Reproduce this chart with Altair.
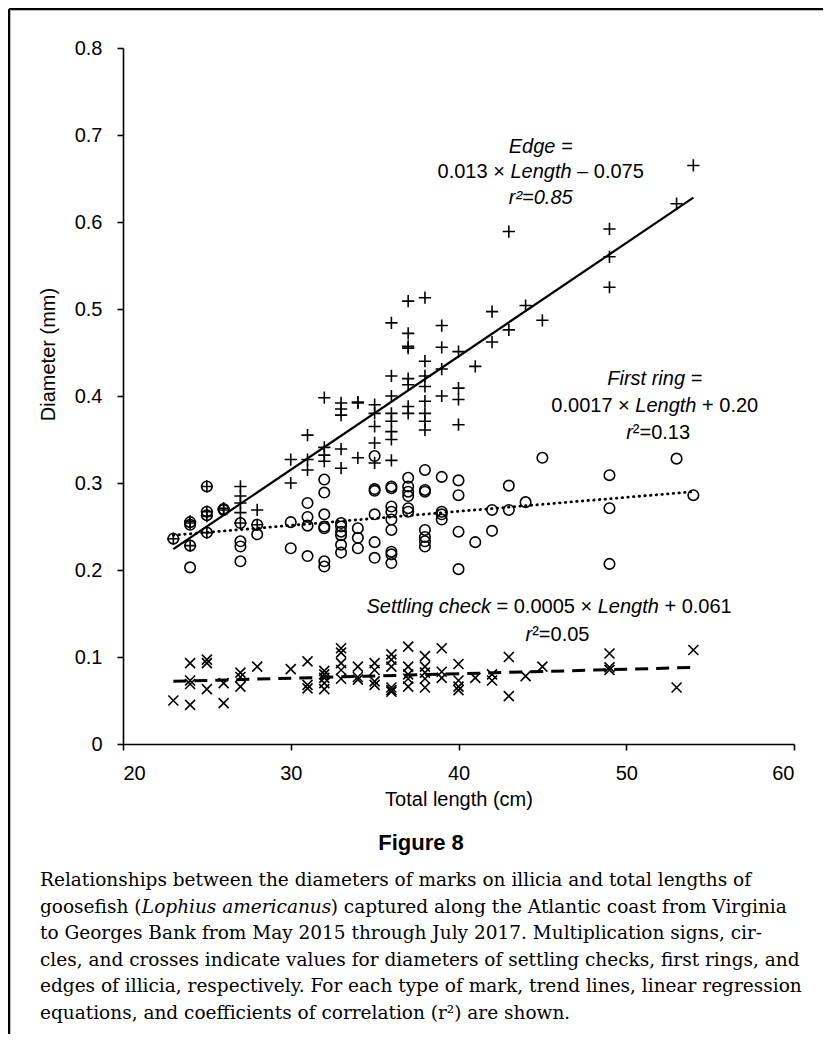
import altair as alt
import pandas as pd

# ---------------- data ----------------
edge_len = [23, 24, 24, 24, 25, 25, 25, 25, 26, 26, 27, 27, 27, 27, 27, 28, 28, 30, 30,
            31, 31, 31, 32, 32, 32, 32, 33, 33, 33, 33, 33, 34, 34, 34, 35, 35, 35, 35, 35,
            36, 36, 36, 36, 36, 36, 36, 36, 37, 37, 37, 37, 37, 37, 37, 37,
            38, 38, 38, 38, 38, 38, 38, 38, 39, 39, 39, 39, 40, 40, 40, 40,
            41, 42, 42, 43, 43, 44, 45, 49, 49, 49, 53, 54]
edge_dia = [0.236, 0.254, 0.256, 0.228, 0.296, 0.267, 0.262, 0.243, 0.269, 0.271,
            0.296, 0.285, 0.277, 0.266, 0.254, 0.269, 0.252, 0.327, 0.300,
            0.355, 0.327, 0.315, 0.398, 0.341, 0.332, 0.325, 0.392, 0.385, 0.378, 0.339, 0.317,
            0.392, 0.393, 0.329, 0.390, 0.380, 0.365, 0.346, 0.323,
            0.484, 0.423, 0.400, 0.380, 0.371, 0.359, 0.350, 0.326,
            0.509, 0.472, 0.457, 0.455, 0.420, 0.413, 0.388, 0.380,
            0.513, 0.440, 0.423, 0.411, 0.394, 0.380, 0.371, 0.361,
            0.481, 0.456, 0.431, 0.400, 0.451, 0.409, 0.396, 0.367,
            0.434, 0.497, 0.462, 0.589, 0.476, 0.504, 0.487, 0.592, 0.560, 0.525, 0.621, 0.665]

ring_len = [23, 24, 24, 24, 24, 25, 25, 25, 25, 26, 26, 27, 27, 27, 27, 28, 28, 30, 30,
            31, 31, 31, 31, 32, 32, 32, 32, 32, 32, 32, 33, 33, 33, 33, 33, 33, 34, 34, 34,
            35, 35, 35, 35, 35, 35, 36, 36, 36, 36, 36, 36, 36, 36, 36,
            37, 37, 37, 37, 37, 37, 38, 38, 38, 38, 38, 38, 38, 39, 39, 39, 39,
            40, 40, 40, 40, 41, 42, 42, 43, 43, 44, 45, 49, 49, 49, 53, 54]
ring_dia = [0.236, 0.255, 0.252, 0.228, 0.203, 0.296, 0.267, 0.263, 0.243, 0.269, 0.270,
            0.254, 0.233, 0.227, 0.210, 0.252, 0.241, 0.255, 0.225,
            0.277, 0.261, 0.251, 0.216, 0.304, 0.289, 0.264, 0.250, 0.248, 0.210, 0.204,
            0.254, 0.250, 0.244, 0.240, 0.229, 0.220, 0.248, 0.237, 0.225,
            0.331, 0.293, 0.291, 0.264, 0.232, 0.214,
            0.296, 0.294, 0.273, 0.267, 0.258, 0.246, 0.221, 0.218, 0.208,
            0.306, 0.296, 0.290, 0.285, 0.271, 0.267,
            0.315, 0.292, 0.290, 0.246, 0.238, 0.233, 0.227, 0.307, 0.267, 0.264, 0.258,
            0.303, 0.286, 0.244, 0.201, 0.232, 0.269, 0.245, 0.297, 0.269, 0.278, 0.329,
            0.309, 0.271, 0.207, 0.328, 0.286]

check_len = [23, 24, 24, 24, 24, 25, 25, 25, 26, 26, 27, 27, 27, 28, 30, 31, 31, 31,
             32, 32, 32, 32, 32, 33, 33, 33, 33, 33, 34, 34, 34, 35, 35, 35, 35,
             36, 36, 36, 36, 36, 36, 37, 37, 37, 37, 37, 38, 38, 38, 38, 38,
             39, 39, 39, 40, 40, 40, 40, 41, 42, 42, 43, 43, 44, 45, 49, 49, 49, 53, 54]
check_dia = [0.050, 0.093, 0.073, 0.069, 0.045, 0.097, 0.093, 0.063, 0.070, 0.047,
             0.082, 0.077, 0.066, 0.089, 0.086, 0.095, 0.068, 0.064,
             0.084, 0.080, 0.076, 0.070, 0.063, 0.110, 0.105, 0.093, 0.085, 0.075,
             0.089, 0.077, 0.074, 0.093, 0.085, 0.072, 0.068,
             0.103, 0.097, 0.089, 0.065, 0.062, 0.060, 0.112, 0.089, 0.080, 0.075, 0.066,
             0.101, 0.089, 0.082, 0.075, 0.065, 0.110, 0.083, 0.076,
             0.092, 0.073, 0.066, 0.062, 0.076, 0.080, 0.073, 0.100, 0.055, 0.078, 0.089,
             0.104, 0.088, 0.085, 0.065, 0.108]

trend_len = [23, 54]
edge_fit = [0.224, 0.628]
ring_fit = [0.240, 0.290]
check_fit = [0.072, 0.088]

x_ticks = [20, 30, 40, 50, 60]
y_ticks = [0, 0.1, 0.2, 0.3, 0.4, 0.5, 0.6, 0.7, 0.8]

# annotation text (centre length, centre diameter, pieces: text, italic)
annotations = [
    (44.9, 0.686, [("Edge =", True)]),
    (44.9, 0.657, [("0.013 × ", False), ("Length", True), (" – 0.075", False)]),
    (44.9, 0.628, [("r²=0.85", True)]),
    (51.7, 0.420, [("First ring =", True)]),
    (51.7, 0.389, [("0.0017 × ", False), ("Length", True), (" + 0.20", False)]),
    (51.9, 0.358, [("r", True), ("²=0.13", False)]),
    (45.4, 0.157, [("Settling check", True), (" = 0.0005 × ", False), ("Length", True), (" + 0.061", False)]),
    (45.9, 0.125, [("r", True), ("²=0.05", False)]),
]

caption_lines = [
    [("Relationships between the diameters of marks on illicia and total lengths of", False)],
    [("goosefish (", False), ("Lophius americanus", True), (") captured along the Atlantic coast from Virginia", False)],
    [("to Georges Bank from May 2015 through July 2017. Multiplication signs, cir-", False)],
    [("cles, and crosses indicate values for diameters of settling checks, first rings, and", False)],
    [("edges of illicia, respectively. For each type of mark, trend lines, linear regression", False)],
    [("equations, and coefficients of correlation (r²) are shown.", False)],
]

# ---------------- helpers ----------------
SANS = "Liberation Sans"
SERIF = "DejaVu Serif"
ANN_SIZE = 20
CAP_SIZE = 18.5

arial_w = {"0": 556, "1": 556, "2": 556, "3": 556, "4": 556, "5": 556, "6": 556, "7": 556,
           "8": 556, "9": 556, ".": 278, " ": 278, "×": 584, "+": 584, "–": 556, "=": 584,
           "L": 556, "e": 556, "n": 556, "g": 556, "t": 278, "h": 556, "S": 667, "i": 222,
           "l": 222, "c": 500, "k": 500, "E": 667, "d": 556, "F": 611, "r": 333, "s": 500,
           "²": 333}


def arial_width(s, size):
    return sum(arial_w.get(ch, 556) for ch in s) * size / 1000.0


dejavu_w = {"g": 640, "o": 602, "s": 514, "e": 592, "f": 370, "i": 320, "h": 644, " ": 318,
            "(": 390, "L": 637, "p": 640, "u": 644, "a": 596, "m": 948, "r": 478, "c": 560,
            "n": 644}


def serif_width(s, size):
    return sum(dejavu_w.get(ch, 600) for ch in s) * size / 1000.0


XS = alt.Scale(domain=[20, 60], nice=False, zero=False)
YS = alt.Scale(domain=[0, 0.8], nice=False, zero=True)
x_axis = alt.Axis(values=x_ticks, title="Total length (cm)", grid=False, tickSize=6,
                  labelPadding=13, titlePadding=6, format="d")
y_axis = alt.Axis(values=y_ticks, title="Diameter (mm)", grid=False, tickSize=6,
                  labelPadding=15, titlePadding=16, format=".1~f", titleY=306)


def enc(ch):
    return ch.encode(x=alt.X("len:Q", scale=XS, axis=x_axis),
                     y=alt.Y("dia:Q", scale=YS, axis=y_axis))


PLUS = "M-1,0L1,0M0,-1L0,1"
CROSS = "M-1,-1L1,1M-1,1L1,-1"

edge_pts = enc(alt.Chart(pd.DataFrame({"len": edge_len, "dia": edge_dia})).mark_point(
    shape=PLUS, size=150, filled=False, color="black", strokeWidth=1.6, opacity=1))
ring_pts = enc(alt.Chart(pd.DataFrame({"len": ring_len, "dia": ring_dia})).mark_point(
    shape="circle", size=110, filled=False, color="black", strokeWidth=1.6, opacity=1))
check_pts = enc(alt.Chart(pd.DataFrame({"len": check_len, "dia": check_dia})).mark_point(
    shape=CROSS, size=100, filled=False, color="black", strokeWidth=1.6, opacity=1))

edge_line = enc(alt.Chart(pd.DataFrame({"len": trend_len, "dia": edge_fit})).mark_line(
    color="black", strokeWidth=2.2))
ring_line = enc(alt.Chart(pd.DataFrame({"len": trend_len, "dia": ring_fit})).mark_line(
    color="black", strokeWidth=2.8, strokeDash=[0.5, 5.2], strokeCap="round"))
check_line = enc(alt.Chart(pd.DataFrame({"len": trend_len, "dia": check_fit})).mark_line(
    color="black", strokeWidth=3, strokeDash=[13, 8]))

layers = [ring_pts, edge_pts, check_pts, edge_line, ring_line, check_line]

# plot annotations (mixed roman / italic pieces)
for cx, cy, pieces in annotations:
    total = sum(arial_width(t, ANN_SIZE) for t, _ in pieces)
    off = -total / 2.0
    for t, ital in pieces:
        lead = len(t) - len(t.lstrip(" "))
        txt = t.strip(" ")
        dx = off + arial_width(" " * lead, ANN_SIZE)
        layers.append(enc(alt.Chart(pd.DataFrame({"len": [cx], "dia": [cy]})).mark_text(
            text=txt, align="left", baseline="middle", dx=dx, font=SANS, fontSize=ANN_SIZE,
            fontStyle="italic" if ital else "normal", color="black")))
        off += arial_width(t, ANN_SIZE)

dummy = pd.DataFrame({"a": [0]})

# figure label
layers.append(alt.Chart(dummy).mark_text(
    text="Figure 8", align="center", baseline="middle", font=SANS, fontSize=22,
    fontWeight="bold", color="black").encode(x=alt.value(298), y=alt.value(795)))

# caption
cap_left = -83
cap_y0 = 832
cap_step = 26.6
for i, pieces in enumerate(caption_lines):
    off = 0.0
    for t, ital in pieces:
        layers.append(alt.Chart(dummy).mark_text(
            text=t, align="left", baseline="middle", font=SERIF, fontSize=CAP_SIZE,
            fontStyle="italic" if ital else "normal", color="black").encode(
            x=alt.value(cap_left + off), y=alt.value(cap_y0 + i * cap_step)))
        off += serif_width(t, CAP_SIZE)

# frame (top and left border lines of the figure box)
layers.append(alt.Chart(dummy).mark_rule(color="black", strokeWidth=2.5).encode(
    x=alt.value(-114), x2=alt.value(720), y=alt.value(-39)))
layers.append(alt.Chart(dummy).mark_rule(color="black", strokeWidth=2.5).encode(
    x=alt.value(-114), y=alt.value(-39), y2=alt.value(990)))

chart = alt.layer(*layers).properties(
    width=671, height=696,
    autosize=alt.AutoSizeParams(type="none"),
    padding={"left": 115, "top": 40, "right": 29, "bottom": 290},
    background="white",
).configure_view(stroke=None).configure_axis(
    labelFont=SANS, labelFontSize=20, labelColor="black",
    titleFont=SANS, titleFontSize=20, titleFontWeight="normal", titleColor="black",
    domainColor="black", tickColor="black", domainWidth=1.6, tickWidth=1.6,
)

chart.save("out.html", embed_options={"renderer": "svg", "actions": False})
